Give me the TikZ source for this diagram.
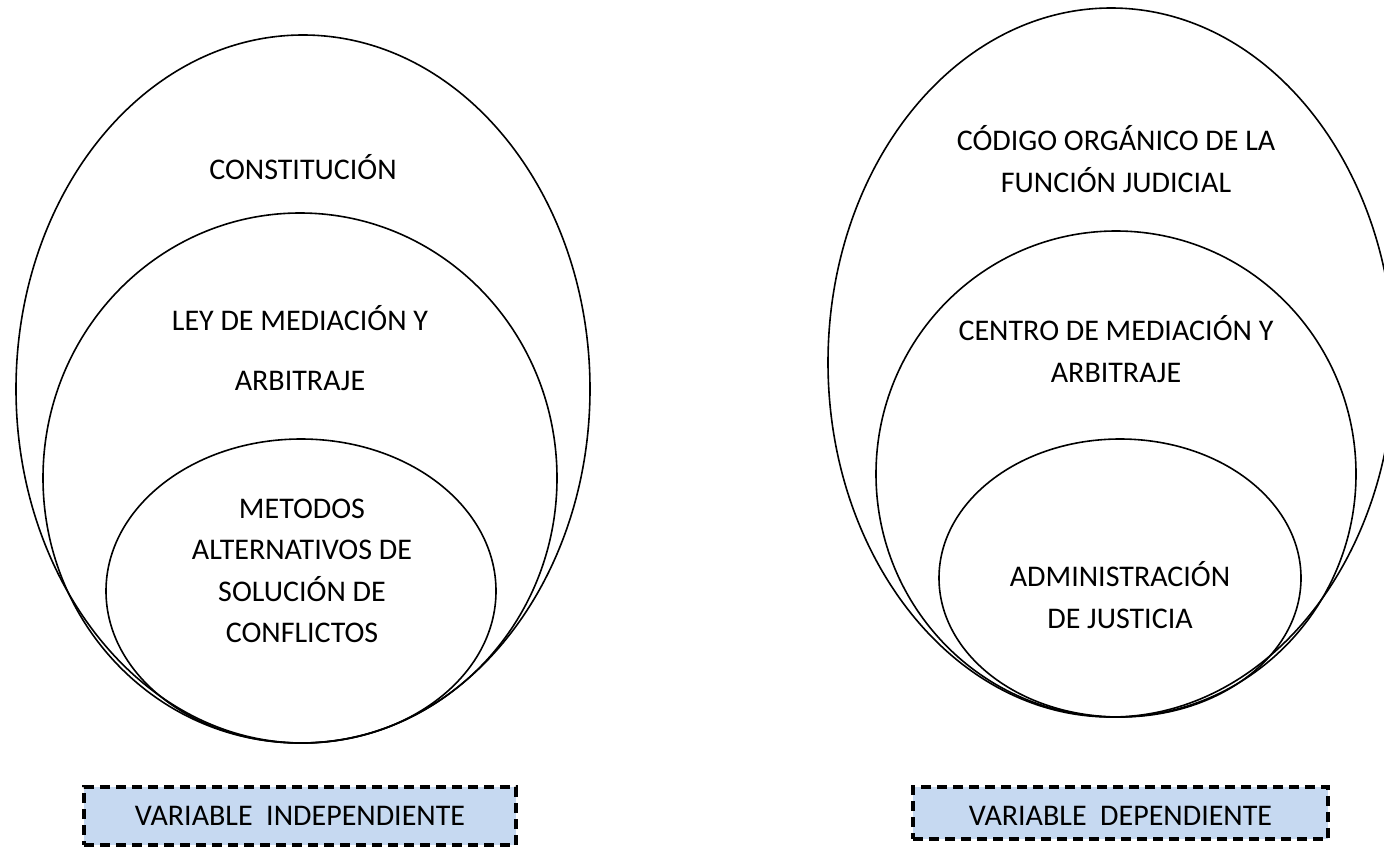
\documentclass[tikz,border=0pt]{standalone}
\usepackage{fontspec}
\setmainfont{Carlito}
\usetikzlibrary{shapes.geometric}
\definecolor{boxblue}{HTML}{C6D9F1}
\tikzset{
  ell/.style={draw=black, line width=1.6pt, ellipse, inner sep=0pt},
  lbl/.style={align=center, font=\fontsize{30}{41.5}\selectfont, inner sep=0pt},
  varbox/.style={draw=black, fill=boxblue, line width=3.2pt, dash pattern=on 10pt off 6pt,
    inner sep=0pt, font=\fontsize{30}{36}\selectfont},
  boxtxt/.style={inner sep=0pt, font=\fontsize{30}{36}\selectfont}
}
\begin{document}
\begin{tikzpicture}[x=1pt, y=-1pt]
\useasboundingbox (0,0) rectangle (1384,846);
\begin{scope}
\clip (0,0) rectangle (1384,846);
% left group
\node[ell, minimum width=574pt, minimum height=708pt] (lo) at (303,389) {};
\node[ell, minimum width=514pt, minimum height=530pt] (lm) at (300,478) {};
\node[ell, minimum width=390pt, minimum height=304pt] (li) at (301,591) {};
\node[lbl] (t1) at (303,167) {CONSTITUCIÓN};
\node[lbl] (t2) at (300,348) {LEY DE MEDIACIÓN Y\\[18.5pt]ARBITRAJE};
\node[lbl] (t3) at (302,571) {METODOS\\ALTERNATIVOS DE\\SOLUCIÓN DE\\CONFLICTOS};
% right group
\node[ell, minimum width=566pt, minimum height=709pt] (ro) at (1111,362.5) {};
\node[ell, minimum width=480pt, minimum height=486pt] (rm) at (1116,474) {};
\node[ell, minimum width=362pt, minimum height=278pt] (ri) at (1120,578) {};
\node[lbl] (t4) at (1116,159) {CÓDIGO ORGÁNICO DE LA\\FUNCIÓN JUDICIAL};
\node[lbl] (t5) at (1116,349) {CENTRO DE MEDIACIÓN Y\\ARBITRAJE};
\node[lbl] (t6) at (1120,595) {ADMINISTRACIÓN\\DE JUSTICIA};
% variable boxes
\node[varbox, minimum width=432pt, minimum height=58pt] (vi) at (300,816) {};
\node[boxtxt] (vit) at (300,816) {VARIABLE\ \ INDEPENDIENTE};
\node[varbox, minimum width=415pt, minimum height=52pt] (vd) at (1120.5,813) {};
\node[boxtxt] (vdt) at (1120.5,816) {VARIABLE\ \ DEPENDIENTE};
\end{scope}
\end{tikzpicture}
\end{document}
